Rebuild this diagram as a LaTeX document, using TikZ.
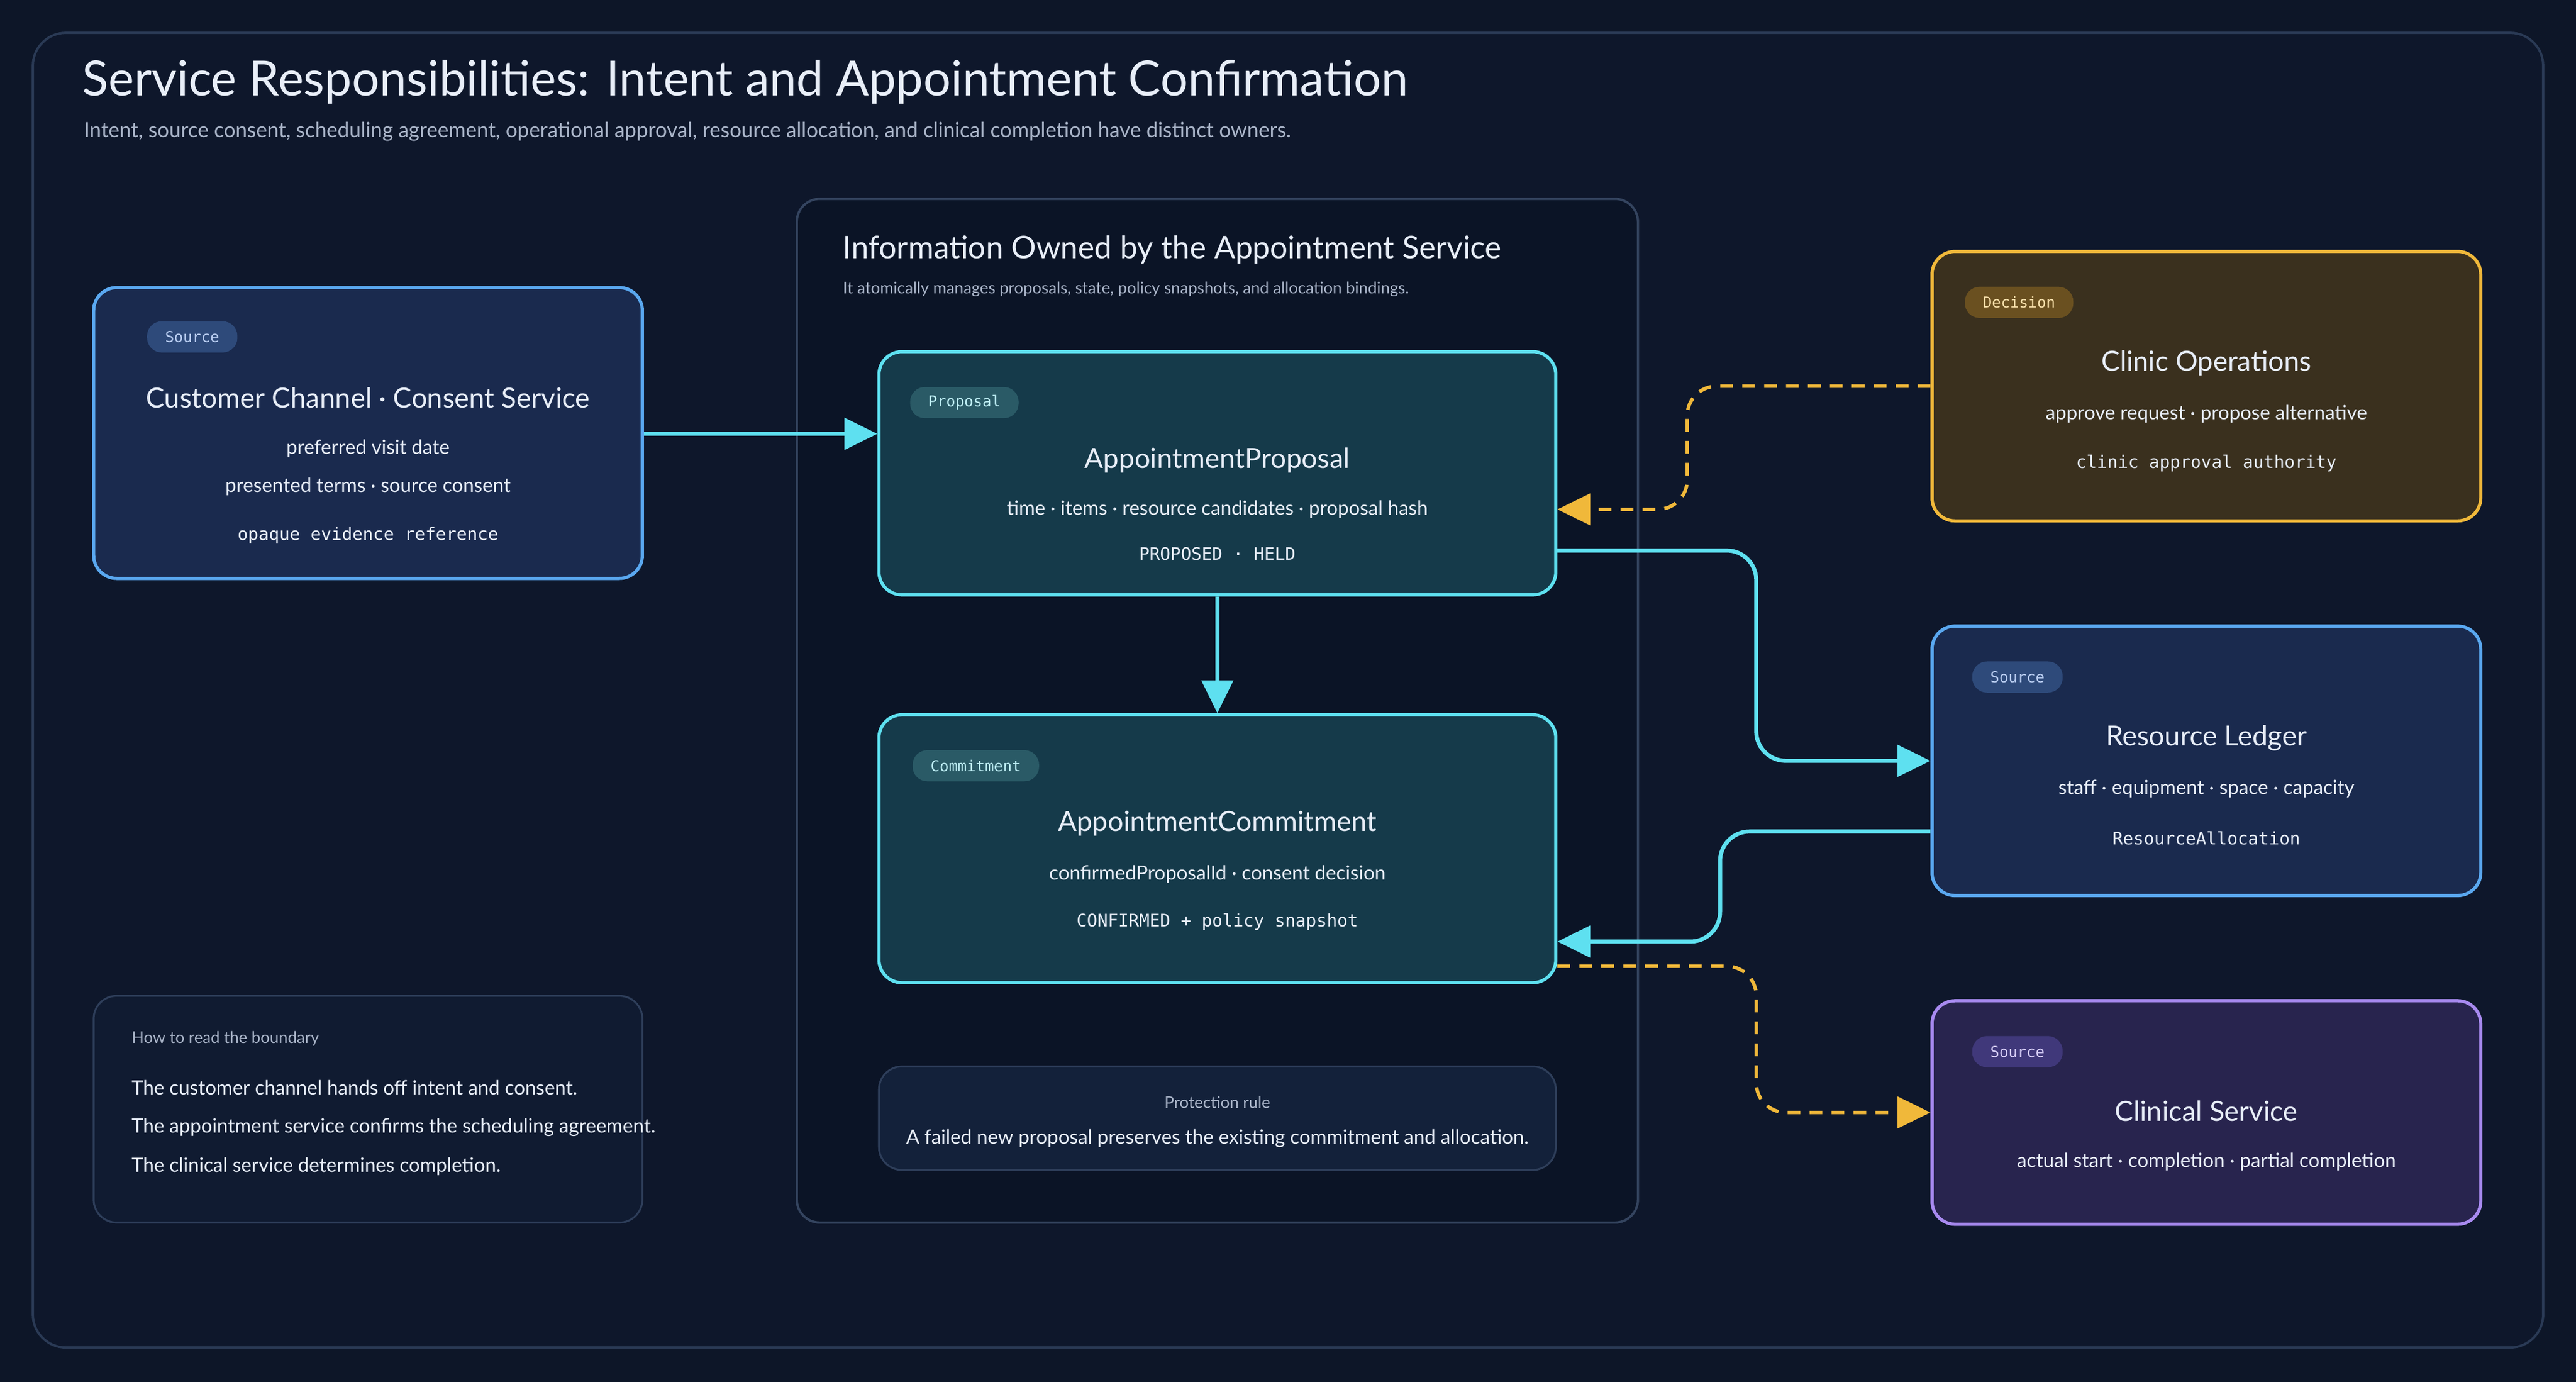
\documentclass[tikz,border=0pt]{standalone}
\usepackage{fontspec}
\setmainfont{Lato}
\setmonofont{DejaVu Sans Mono}
\usetikzlibrary{arrows.meta,calc,positioning}
\definecolor{bgc}{HTML}{0D1628}
\definecolor{framec}{HTML}{2A3A55}
\definecolor{framefill}{HTML}{0E172B}
\definecolor{txt}{HTML}{E8EEF8}
\definecolor{dim}{HTML}{A9B4C8}
\definecolor{cyanl}{HTML}{5EE0F0}
\definecolor{bluel}{HTML}{5AA8F0}
\definecolor{goldl}{HTML}{F0B83A}
\definecolor{purpl}{HTML}{A88AF0}
\definecolor{srcfill}{HTML}{1A2A4E}
\definecolor{corefill}{HTML}{153A4A}
\definecolor{opsfill}{HTML}{3A301E}
\definecolor{clinfill}{HTML}{28244E}
\definecolor{noteline}{HTML}{2E3E5A}
\definecolor{svcline}{HTML}{34445F}
\definecolor{svcfill}{HTML}{0B1426}
\definecolor{rulefill}{HTML}{13213A}
\definecolor{guidefill}{HTML}{101B31}
\definecolor{srcpill}{HTML}{2E4A7A}
\definecolor{srcpilltxt}{HTML}{B8CCF0}
\definecolor{corepill}{HTML}{2A5A66}
\definecolor{corepilltxt}{HTML}{BFEFF5}
\definecolor{opspill}{HTML}{6A5020}
\definecolor{opspilltxt}{HTML}{F5DDA8}
\definecolor{clinpill}{HTML}{40387A}
\definecolor{clinpilltxt}{HTML}{D5CCF5}
\newcommand{\fs}[1]{\fontsize{#1}{#1}\selectfont}
\newcommand{\card}[6]{\node[#6,minimum width={(#4-#2)*0.05cm},minimum height={(#5-#3)*0.05cm}] (#1) at ({(#2+#4)/2},{(#3+#5)/2}) {};}
\begin{document}
\begin{tikzpicture}[x=0.05cm,y=-0.05cm,
          every node/.style={inner sep=0pt,text=txt},
          box/.style={draw,rounded corners=0.7cm,line width=2.8pt},
          srcbox/.style={box,draw=bluel,fill=srcfill},
          corebox/.style={box,draw=cyanl,fill=corefill},
          opsbox/.style={box,draw=goldl,fill=opsfill},
          clinbox/.style={box,draw=purpl,fill=clinfill},
          notebox/.style={box,line width=1.6pt,draw=noteline},
          pill/.style={rounded corners=0.45cm,minimum height=0.95cm,inner xsep=0.55cm,font=\ttfamily\fs{13}},
          ttl/.style={font=\fs{24}},
          body/.style={font=\fs{17}},
          mono/.style={font=\ttfamily\fs{15}},
          flow/.style={draw=cyanl,line width=3.5pt,rounded corners=0.9cm,-{Triangle[length=1cm,width=0.95cm]}},
          ask/.style={draw=goldl,line width=3pt,dash pattern=on 11pt off 8pt,rounded corners=0.9cm,-{Triangle[length=1cm,width=0.95cm]}}]
  \fill[bgc](0,0)rectangle(1568,841);
  \draw[framec,line width=2pt,rounded corners=1cm,fill=framefill](20,20)rectangle(1548,820);
  \node[anchor=west,font=\fs{42}] (title) at (50,50) {Service Responsibilities: Intent and Appointment Confirmation};
  \node[anchor=west,font=\fs{18},text=dim] (subtitle) at (51,80) {Intent, source consent, scheduling agreement, operational approval, resource allocation, and clinical completion have distinct owners.};
  % appointment service boundary
  \card{svc}{485}{121}{997}{744}{box,line width=2pt,draw=svcline,fill=svcfill}
  \node[anchor=west,font=\fs{27}] (svctitle) at (513,152) {Information Owned by the Appointment Service};
  \node[anchor=west,font=\fs{14},text=dim] (svcsub) at (513,176) {It atomically manages proposals, state, policy snapshots, and allocation bindings.};
  % customer channel
  \card{cust}{57}{175}{391}{352}{srcbox}
  \node[pill,fill=srcpill,text=srcpilltxt] (custpill) at (117,205) {Source};
  \node[ttl] at (224,242) {Customer Channel · Consent Service};
  \node[body] at (224,273) {preferred visit date};
  \node[body] at (224,296) {presented terms · source consent};
  \node[mono] at (224,326) {opaque evidence reference};
  % proposal
  \card{prop}{535}{214}{947}{362}{corebox}
  \node[pill,fill=corepill,text=corepilltxt] at (587,245) {Proposal};
  \node[ttl] at (741,280) {AppointmentProposal};
  \node[body] at (741,310) {time · items · resource candidates · proposal hash};
  \node[mono] at (741,337) {PROPOSED · HELD};
  % commitment
  \card{commit}{535}{435}{947}{598}{corebox}
  \node[pill,fill=corepill,text=corepilltxt] at (594,466) {Commitment};
  \node[ttl] at (741,501) {AppointmentCommitment};
  \node[body] at (741,532) {confirmedProposalId · consent decision};
  \node[mono] at (741,561) {CONFIRMED + policy snapshot};
  % protection rule
  \card{rule}{535}{649}{947}{712}{notebox,fill=rulefill}
  \node[font=\fs{14},text=dim] at (741,671) {Protection rule};
  \node[body] at (741,693) {A failed new proposal preserves the existing commitment and allocation.};
  % reading guide
  \card{guide}{57}{606}{391}{744}{notebox,fill=guidefill}
  \node[anchor=west,font=\fs{14},text=dim] at (80,632) {How to read the boundary};
  \node[anchor=west,body] at (80,662) {The customer channel hands off intent and consent.};
  \node[anchor=west,body] at (80,686) {The appointment service confirms the scheduling agreement.};
  \node[anchor=west,body] at (80,710) {The clinical service determines completion.};
  % clinic operations
  \card{ops}{1176}{153}{1510}{317}{opsbox}
  \node[pill,fill=opspill,text=opspilltxt] at (1229,184) {Decision};
  \node[ttl] at (1343,221) {Clinic Operations};
  \node[body] at (1343,252) {approve request · propose alternative};
  \node[mono] at (1343,282) {clinic approval authority};
  % resource ledger
  \card{ledger}{1176}{381}{1510}{545}{srcbox}
  \node[pill,fill=srcpill,text=srcpilltxt] at (1228,412) {Source};
  \node[ttl] at (1343,449) {Resource Ledger};
  \node[body] at (1343,480) {staff · equipment · space · capacity};
  \node[mono] at (1343,510) {ResourceAllocation};
  % clinical service
  \card{clin}{1176}{609}{1510}{745}{clinbox}
  \node[pill,fill=clinpill,text=clinpilltxt] at (1228,640) {Source};
  \node[ttl] at (1343,676) {Clinical Service};
  \node[body] at (1343,707) {actual start · completion · partial completion};
  % connectors
  \draw[flow](cust.east|-0,264)--(prop.west|-0,264);
  \draw[flow](prop.south)--(commit.north);
  \draw[ask](ops.west|-0,235)--(1027,235)--(1027,310)--(prop.east|-0,310);
  \draw[flow](prop.east|-0,335)--(1069,335)--(1069,463)--(ledger.west|-0,463);
  \draw[flow](ledger.west|-0,506)--(1047,506)--(1047,573)--(commit.east|-0,573);
  \draw[ask](commit.east|-0,588)--(1069,588)--(1069,677)--(clin.west|-0,677);
\end{tikzpicture}
\end{document}
